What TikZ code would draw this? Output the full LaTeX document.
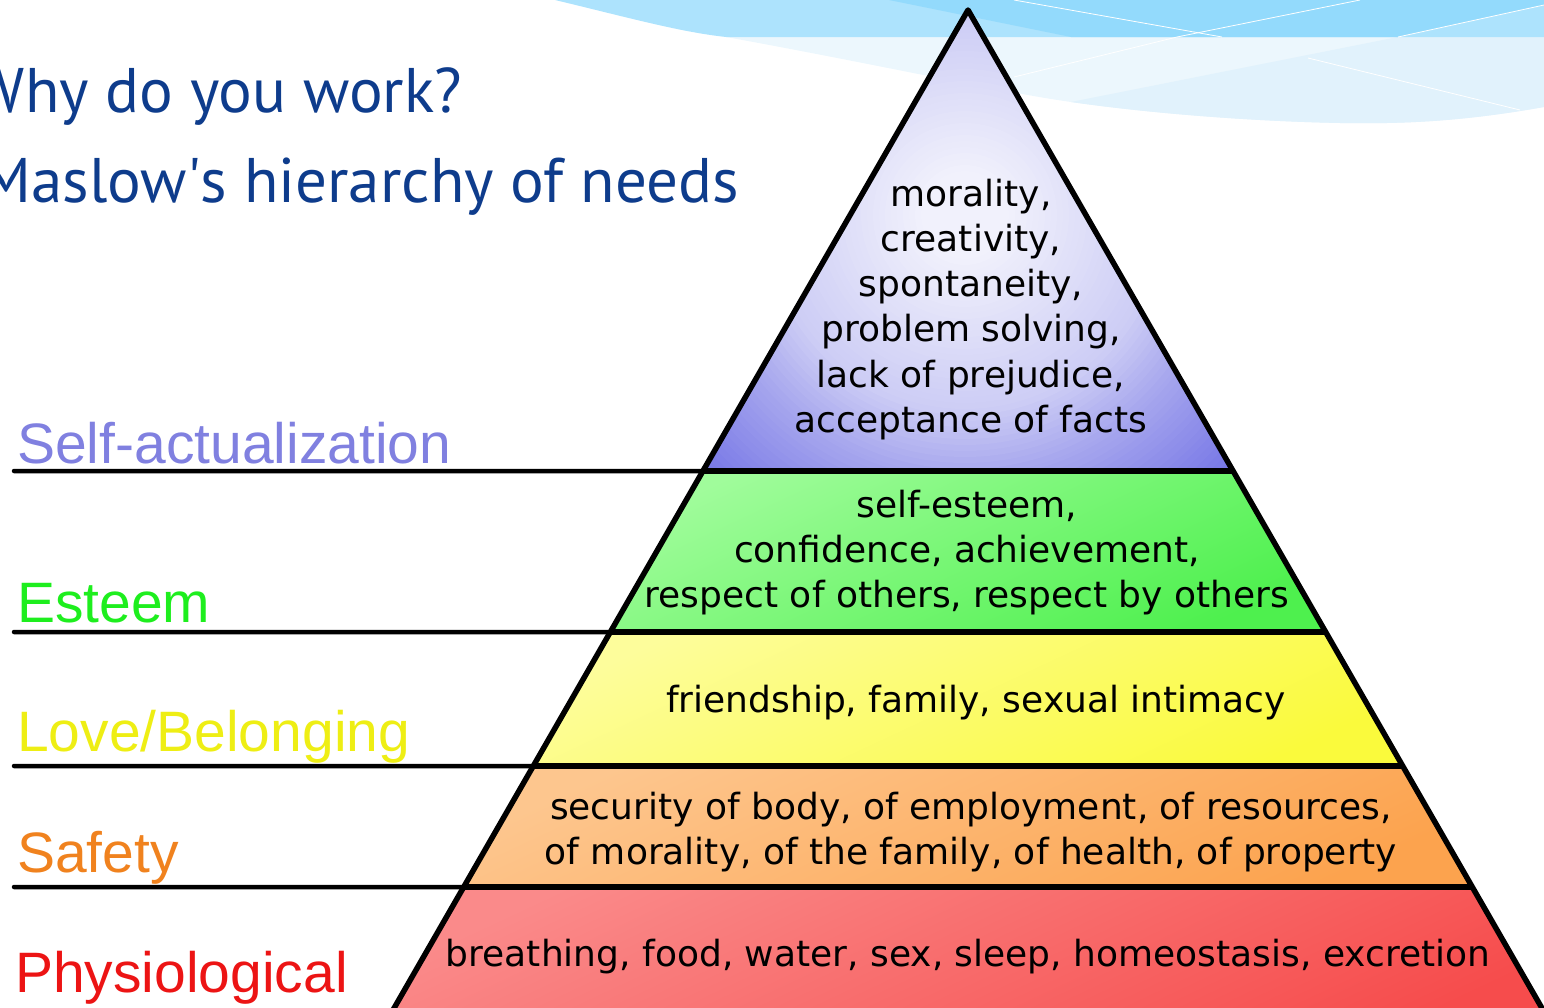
\documentclass[tikz,border=0pt]{standalone}
\usepackage{fontspec}
\setmainfont{DejaVu Sans}
\newfontfamily\labelfont{Liberation Sans}
\newfontfamily\titlefont{PT Sans}
\usetikzlibrary{calc}
\definecolor{titleblue}{RGB}{14,60,140}
\definecolor{bandblue}{RGB}{173,227,253}
\definecolor{banddeep}{RGB}{147,218,252}
\definecolor{wavelight}{RGB}{236,247,253}
\definecolor{wavemid}{RGB}{225,242,252}
\definecolor{saText}{RGB}{128,128,224}
\definecolor{esText}{RGB}{30,238,30}
\definecolor{lbText}{RGB}{238,238,20}
\definecolor{sfText}{RGB}{240,130,30}
\definecolor{phText}{RGB}{236,20,20}
\definecolor{saLight}{RGB}{242,242,252}
\definecolor{saMid}{RGB}{204,204,245}
\definecolor{saEdge}{RGB}{168,168,238}
\definecolor{saDark}{RGB}{118,118,230}
\definecolor{esLight}{RGB}{160,252,155}
\definecolor{esDark}{RGB}{78,240,78}
\definecolor{lbLight}{RGB}{253,253,155}
\definecolor{lbDark}{RGB}{250,250,60}
\definecolor{sfLight}{RGB}{253,198,142}
\definecolor{sfDark}{RGB}{252,163,78}
\definecolor{phLight}{RGB}{250,138,138}
\definecolor{phDark}{RGB}{246,76,76}
\tikzset{%
  rung/.style = {line width=4.5pt, line cap=round},
  edge/.style = {line width=5.5pt, line join=round},
  need/.style = {anchor=base, inner sep=0pt,
        font=\fontsize{36}{43}\selectfont},
  lvl/.style = {anchor=base west, inner sep=0pt,
        font=\labelfont\fontsize{57}{60}\selectfont},
  heading/.style = {anchor=base east, inner sep=0pt, text=titleblue,
        font=\titlefont\fontsize{63}{70}\selectfont},
  streak/.style = {draw=white, line width=0.8pt}
}

\begin{document}
\begin{tikzpicture}[x=1pt,y=-1pt]
    \useasboundingbox (0,0) rectangle (1544,1007);
    \clip (0,0) rectangle (1544,1007);
    % background waves
    \fill[wavelight] (726,37) -- (1544,37) -- (1544,107)
        .. controls (1460,122) and (1400,124) .. (1340,123)
        .. controls (1240,121) and (1140,112) .. (1071,102)
        .. controls (1000,92) and (880,65) .. cycle;
    \fill[wavemid] (1071,102) -- (1398,37) -- (1544,37) -- (1544,107)
        .. controls (1460,122) and (1400,124) .. (1340,123)
        .. controls (1240,121) and (1140,112) .. cycle;
    \fill[bandblue] (555,0) .. controls (630,18) and (680,32) .. (726,37)
        -- (1544,37) -- (1544,0) -- cycle;
    \fill[banddeep] (889,0) -- (1071,37) -- (1398,37) -- (1544,5)
        -- (1544,0) -- cycle;
    \draw[streak] (1014,0) -- (1222,37);
    \draw[streak] (1360,0) -- (1177,37) -- (1014,77);
    \draw[streak] (1308,58) -- (1520,110);
    \draw[streak] (1398,37) -- (1544,5);

    % pyramid corners
    \coordinate (apex) at (968,10);
    \coordinate (bl) at (393,1010);
    \coordinate (br) at (1543,1010);
    \coordinate (lb) at ($(apex)!1.03!(bl)$);
    \coordinate (rb) at ($(apex)!1.03!(br)$);
    \coordinate (glow) at (965,215);
    \foreach \y [count=\i] in {471,632,766,887} {
        \coordinate (l\i) at ($(apex)!{(\y-10)/1000}!(bl)$);
        \coordinate (r\i) at ($(apex)!{(\y-10)/1000}!(br)$);
        \coordinate (s\i) at (14,\y);
    }

    % tiers
    \begin{scope}
        \clip (apex) -- (l1) -- (r1) -- cycle;
        \foreach \r in {390,384,...,262} {
            \pgfmathsetmacro\p{min(100,(\r-260)/1.1)}
            \fill[saDark!\p!saEdge] (glow) circle (\r);
        }
        \foreach \r in {260,254,...,202} {
            \pgfmathsetmacro\p{(\r-200)/0.6}
            \fill[saEdge!\p!saMid] (glow) circle (\r);
        }
        \foreach \r in {200,194,...,40} {
            \pgfmathsetmacro\p{(\r-40)/1.6}
            \fill[saMid!\p!saLight] (glow) circle (\r);
        }
    \end{scope}
    \shade[top color=esLight, bottom color=esDark, shading angle=25]
        (l1) -- (l2) -- (r2) -- (r1) -- cycle;
    \shade[top color=lbLight, bottom color=lbDark, shading angle=25]
        (l2) -- (l3) -- (r3) -- (r2) -- cycle;
    \shade[top color=sfLight, bottom color=sfDark, shading angle=25]
        (l3) -- (l4) -- (r4) -- (r3) -- cycle;
    \shade[top color=phLight, bottom color=phDark, shading angle=25]
        (l4) -- (lb) -- (rb) -- (r4) -- cycle;

    \foreach \i in {1,...,4} {
        \draw[rung] (s\i) -- (l\i);
        \draw[edge] (l\i) -- (r\i);
    }
    \draw[edge] (lb) -- (apex) -- (rb);

    % needs
    \foreach \ln [count=\i] in {{morality,},{creativity,},{spontaneity,},
            {problem solving,},{lack of prejudice,},{acceptance of facts}}
        \node[need] (sa\i) at (971,{206+45.3*(\i-1)}) {\ln};
    \foreach \ln [count=\i] in {{self-esteem,},{confidence, achievement,},
            {respect of others, respect by others}}
        \node[need] (es\i) at (967,{517+45.3*(\i-1)}) {\ln};
    \node[need] (lb1) at (976,712) {friendship, family, sexual intimacy};
    \foreach \ln [count=\i] in {{security of body, of employment, of resources,},
            {of morality, of the family, of health, of property}}
        \node[need] (sf\i) at (971,{819+45.3*(\i-1)}) {\ln};
    \node[need] (ph1) at (968,966)
        {breathing, food, water, sex, sleep, homeostasis, excretion};

    % levels
    \node[lvl, text=saText] (selfact) at (17,463) {Self-actualization};
    \node[lvl, text=esText] (esteem) at (17,622) {Esteem};
    \node[lvl, text=lbText] (love) at (17,751) {Love/Belonging};
    \node[lvl, text=sfText] (safety) at (17,872) {Safety};
    \node[lvl, text=phText] (physio) at (15,992) {Physiological};

    % title
    \node[heading] (why) at (462,112) {Why do you work?};
    \node[heading] (maslow) at (739,202) {Maslow\textquotesingle s hierarchy of needs};
\end{tikzpicture}
\end{document}
